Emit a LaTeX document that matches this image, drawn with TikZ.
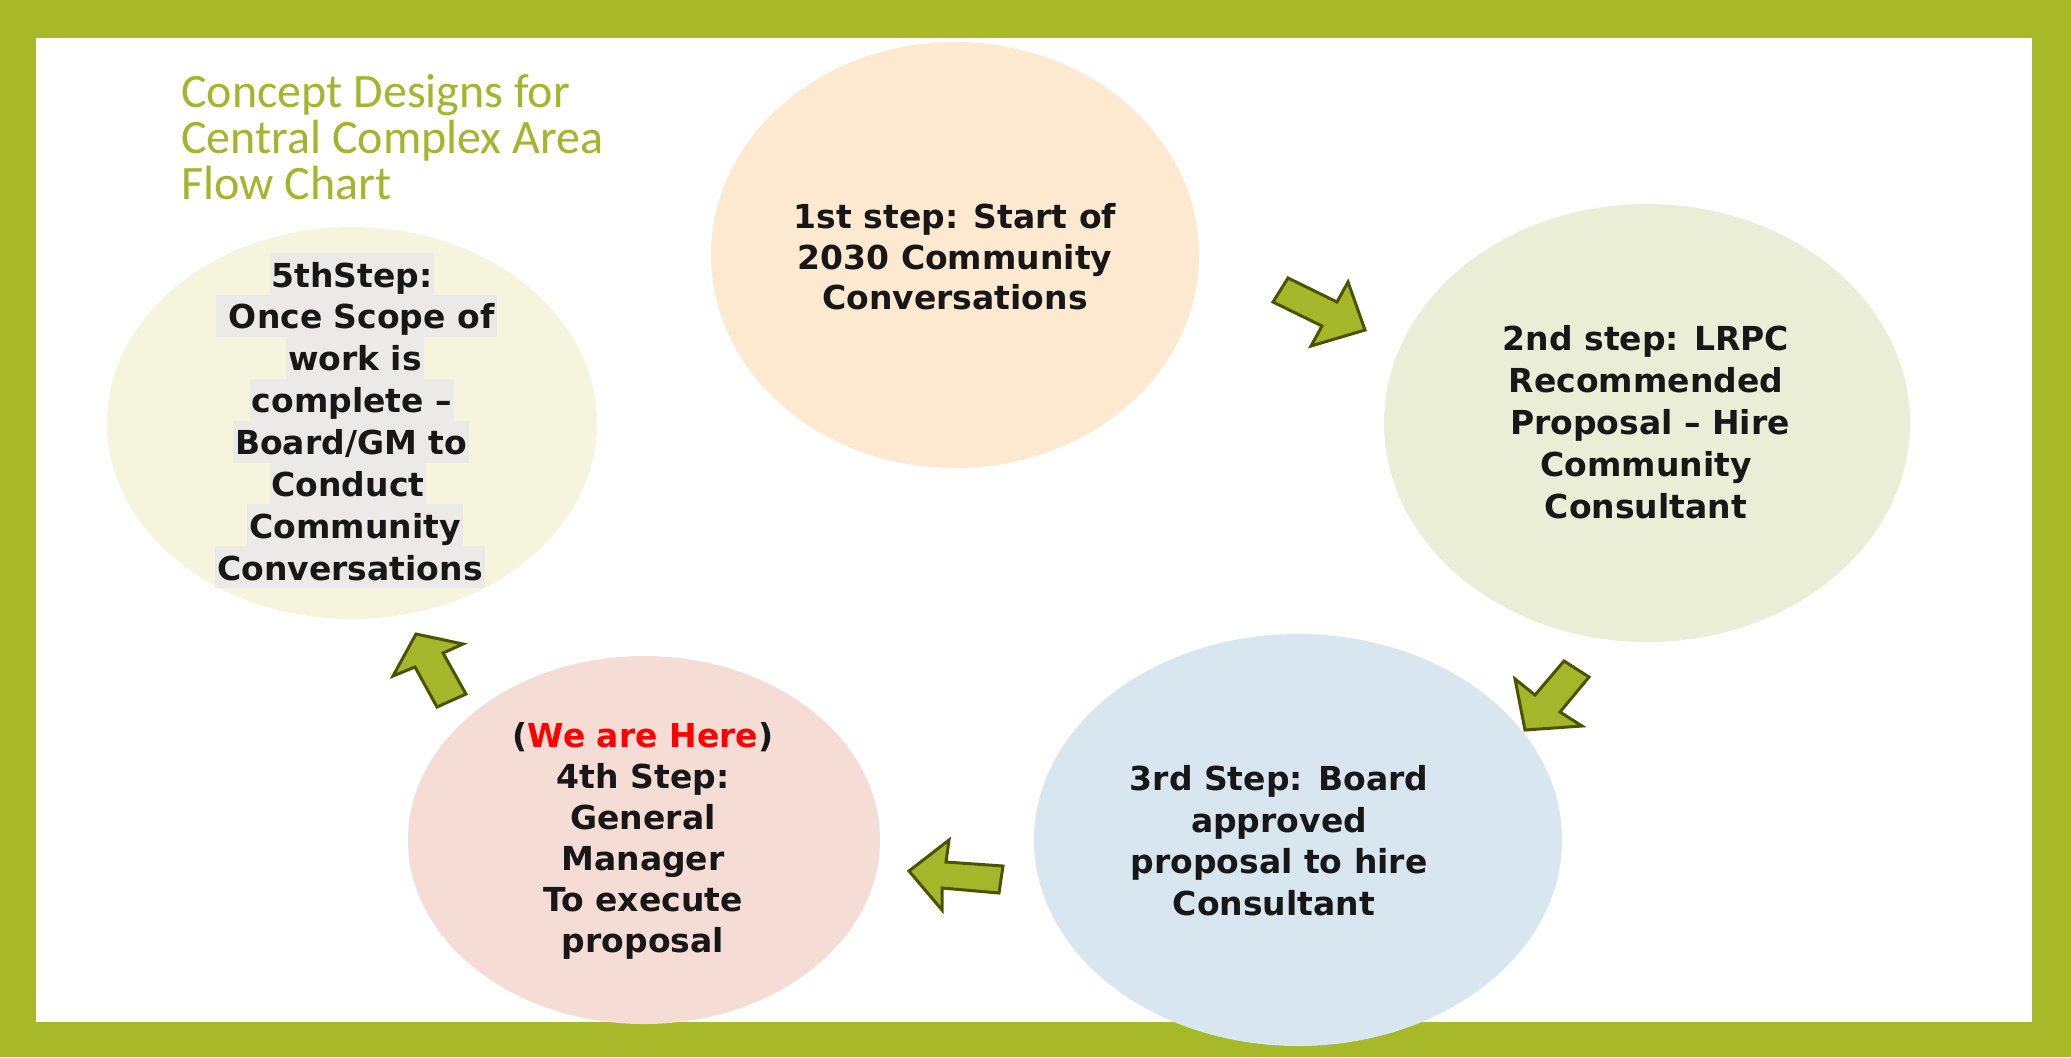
\documentclass[tikz,border=0pt]{standalone}
\usepackage{fontspec}
\usetikzlibrary{shapes.geometric}
\newfontfamily\bodyfont{DejaVu Sans}
\newfontfamily\titlefont{Carlito}
\definecolor{frame}{HTML}{A7B829}
\definecolor{titlegreen}{HTML}{A2B62C}
\definecolor{ink}{HTML}{171717}
\definecolor{hlgrey}{HTML}{EBEAE8}
\definecolor{c1}{HTML}{FDE9D0}
\definecolor{c2}{HTML}{EBEED7}
\definecolor{c3}{HTML}{D8E6F0}
\definecolor{c4}{HTML}{F5DCD4}
\definecolor{c5}{HTML}{F5F4DC}
\definecolor{arrowfill}{HTML}{A4B72B}
\definecolor{arrowline}{HTML}{4B5300}
\definecolor{herered}{HTML}{FF0000}
\begin{document}
\begin{tikzpicture}[x=0.5pt,y=-0.5pt,
  bubble/.style={ellipse, inner sep=0pt, draw=none},
  stepline/.style={anchor=base, inner sep=0pt, text=ink,
    font=\bodyfont\bfseries\fontsize{16.5}{20}\selectfont},
  hlline/.style={anchor=base, inner xsep=1pt, inner ysep=0pt, fill=hlgrey,
    text height=17pt, text depth=3.95pt, text=ink,
    font=\bodyfont\bfseries\fontsize{16.5}{20}\selectfont},
  titleline/.style={anchor=base west, inner sep=0pt, text=titlegreen,
    font=\titlefont\fontsize{24}{26}\selectfont},
  blockarrow/.style={fill=arrowfill, draw=arrowline, line width=1.5pt, line join=miter}]
\useasboundingbox (0,0) rectangle (2071,1057);
\fill[frame] (0,0) rectangle (2071,1057);
\fill[white] (36,38) rectangle (2032,1022);

% bubbles (minimum width in pt = radius in px)
\node[bubble, fill=c1, minimum width=244pt, minimum height=213pt] (s1) at (955,255) {};
\node[bubble, fill=c2, minimum width=263pt, minimum height=219pt] (s2) at (1647,423) {};
\node[bubble, fill=c3, minimum width=264pt, minimum height=206pt] (s3) at (1298,840) {};
\node[bubble, fill=c4, minimum width=236pt, minimum height=184pt] (s4) at (644,840) {};
\node[bubble, fill=c5, minimum width=245pt, minimum height=196pt] (s5) at (352,423) {};

% block arrows
\draw[blockarrow] (1288,278) -- (1337,302) -- (1348,282) -- (1365,330) -- (1311,346) -- (1322,326) -- (1273,302) -- cycle;
\draw[blockarrow] (1564,661) -- (1589,677) -- (1560,712) -- (1582,726) -- (1525,730) -- (1515,679) -- (1535,695) -- cycle;
\draw[blockarrow] (1003,866) -- (999,893) -- (942,888) -- (942,910) -- (909,871) -- (949,840) -- (946,862) -- cycle;
\draw[blockarrow] (466,694) -- (437,707) -- (415,667) -- (393,676) -- (416,634) -- (463,644) -- (443,653) -- cycle;

% title
\node[titleline] (t1) at (181,107) {Concept Designs for};
\node[titleline] (t2) at (181,153) {Central Complex Area};
\node[titleline] (t3) at (181,199) {Flow Chart};

% step 1
\node[stepline] (a1) at (955,228) {1st step: Start of};
\node[stepline] (a2) at (955,269) {2030 Community};
\node[stepline] (a3) at (955,309) {Conversations};

% step 2
\node[stepline] (b1) at (1646,350) {2nd step: LRPC};
\node[stepline] (b2) at (1646,392) {Recommended};
\node[stepline] (b3) at (1650,434) {Proposal – Hire};
\node[stepline] (b4) at (1646,476) {Community};
\node[stepline] (b5) at (1646,518) {Consultant};

% step 3
\node[stepline] (d1) at (1279,790) {3rd Step: Board};
\node[stepline] (d2) at (1279,832) {approved};
\node[stepline] (d3) at (1279,873) {proposal to hire};
\node[stepline] (d4) at (1274,915) {Consultant};

% step 4
\node[stepline] (e1) at (643,747) {(\textcolor{herered}{We are Here})};
\node[stepline] (e2) at (643,788) {4th Step:};
\node[stepline] (e3) at (643,829) {General};
\node[stepline] (e4) at (643,870) {Manager};
\node[stepline] (e5) at (643,911) {To execute};
\node[stepline] (e6) at (643,952) {proposal};

% step 5 (highlighted lines)
\node[hlline] (f1) at (352,287.0) {5thStep:};
\node[hlline] (f2) at (356,328.9) {\ Once Scope of\ };
\node[hlline] (f3) at (355,370.8) {work is\ };
\node[hlline] (f4) at (352,412.7) {complete –};
\node[hlline] (f5) at (351,454.6) {Board/GM to};
\node[hlline] (f6) at (348,496.5) {Conduct\ };
\node[hlline] (f7) at (355,538.4) {Community\ };
\node[hlline] (f8) at (350,580.3) {Conversations};
\end{tikzpicture}
\end{document}
